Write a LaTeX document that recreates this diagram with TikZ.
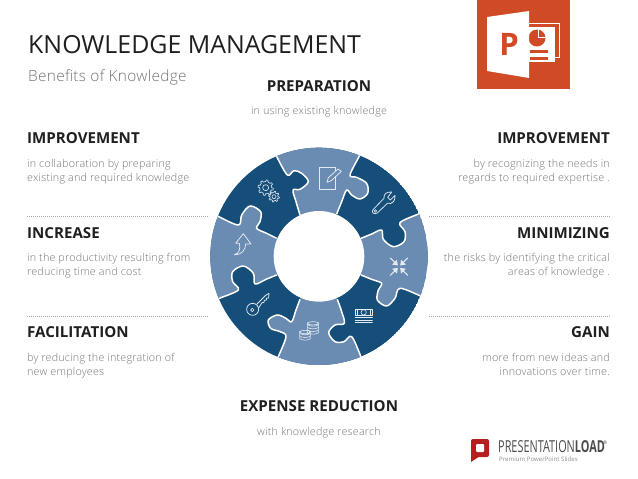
\documentclass[tikz,border=0pt]{standalone}
\usepackage{fontspec}
\usepackage{graphicx}
\setmainfont{Open Sans}
\newfontfamily\lightfont[LetterSpace=2]{Open Sans Light}
\definecolor{ringdark}{HTML}{164E7A}
\definecolor{ringlight}{HTML}{6B8CB2}
\definecolor{bodygray}{HTML}{737373}
\definecolor{headdark}{HTML}{1F1F1F}
\definecolor{ppt}{HTML}{D04A25}
\definecolor{plred}{HTML}{B5201E}
\definecolor{iconline}{HTML}{E4EAF1}
\definecolor{dotgray}{HTML}{A6A6A6}
\def\Bone{-- plot[smooth,tension=.55] coordinates {(300,225)(288,185)(279,150)(300,148)(325,125)(305,100)(282,92)(262,105)(230,50)(215,25)}}
\def\Btwo{-- plot[smooth,tension=.55] coordinates {(490,20)(478,48)(450,105)(470,112)(500,130)(503,160)(480,177)(455,165)(440,150)(425,185)(410,222)}}
\def\Bthree{-- plot[smooth,tension=.55] coordinates {(483,295)(515,282)(545,270)(550,298)(580,320)(612,305)(615,275)(600,248)(655,222)(680,210)}}
\def\Bfour{-- plot[smooth,tension=.55] coordinates {(685,478)(662,468)(600,445)(585,475)(560,498)(532,480)(535,450)(545,430)(515,418)(483,405)}}
\def\Bfive{-- plot[smooth,tension=.55] coordinates {(412,478)(425,515)(433,550)(405,555)(386,578)(405,605)(432,605)(455,590)(483,650)(495,675)}}
\def\Bsix{-- plot[smooth,tension=.55] coordinates {(225,675)(235,650)(258,590)(240,575)(212,565)(205,540)(232,525)(258,535)(275,545)(288,510)(300,478)}}
\def\Bseven{-- plot[smooth,tension=.55] coordinates {(230,405)(198,418)(165,432)(160,400)(130,378)(98,395)(98,425)(115,450)(58,475)(35,485)}}
\def\Beight{-- plot[smooth,tension=.55] coordinates {(30,218)(52,228)(115,255)(125,225)(150,198)(182,215)(180,245)(170,265)(200,280)(230,295)}}
\tikzset{
  piecefill/.style={fill=ringlight},
  seam/.style={draw=white,line width=1.5,line join=round},
  icon/.style={draw=iconline,line width=.75,line join=round,line cap=round,fill=none},
  leftsub/.style={anchor=base west,text=bodygray,font=\lightfont\fontsize{10.75}{12}\selectfont,inner sep=0},
  rightsub/.style={anchor=base east,text=bodygray,font=\lightfont\fontsize{10.75}{12}\selectfont,inner sep=0},
  censub/.style={anchor=base,text=bodygray,font=\lightfont\fontsize{10.75}{12}\selectfont,inner sep=0},
  lefthead/.style={anchor=base west,text=headdark,font=\fontsize{15.1}{17}\selectfont\bfseries,inner sep=0},
  righthead/.style={anchor=base east,text=headdark,font=\fontsize{15.1}{17}\selectfont\bfseries,inner sep=0},
  cenhead/.style={anchor=base,text=headdark,font=\fontsize{15.1}{17}\selectfont\bfseries,inner sep=0},
  sepline/.style={draw=dotgray,line width=.8,dash pattern=on 1pt off 1pt},
}
\begin{document}
\begin{tikzpicture}[x=1pt,y=-1pt]
\useasboundingbox (0,0) rectangle (638,479);
% ---------- ring, in 3x coordinates of the crop
\begin{scope}[xshift=200pt,yshift=-140pt,x=.33333pt,y=-.33333pt]
\begin{scope}
\clip (357,349) circle (326);
\fill[ringdark] (357,349) circle (326);
\fill[piecefill] (357,349) \Bone -- (357,-50) \Btwo -- cycle;
\fill[piecefill] (357,349) \Bthree -- (760,349) \Bfour -- cycle;
\fill[piecefill] (357,349) \Bfive -- (357,750) \Bsix -- cycle;
\fill[piecefill] (357,349) \Bseven -- (-50,349) \Beight -- cycle;
\draw[seam] (300,225) \Bone; \draw[seam] (490,20) \Btwo; \draw[seam] (483,295) \Bthree; \draw[seam] (685,478) \Bfour;
\draw[seam] (412,478) \Bfive; \draw[seam] (225,675) \Bsix; \draw[seam] (230,405) \Bseven; \draw[seam] (30,218) \Beight;
\end{scope}
\fill[white] (357,349) circle (136);
% note and pencil
\draw[icon] (407,110) -- (407,147) -- (357,147) -- (357,82) -- (407,82) -- (407,92);
\draw[icon] (381,127) -- (385,113) -- (414,87) -- (424,94) -- (394,122) -- cycle;
% gears
\draw[icon,line width=.6,shift={(197,143)}] plot[domain=0:360,samples=97] (\x:{18+5*(sin(8*\x)>0)}) -- cycle;
\draw[icon,line width=.6] (197,143) circle (9);
\draw[icon,line width=.6,shift={(222,170)}] plot[domain=0:360,samples=97] (\x:{12+4*(sin(8*\x)>0)}) -- cycle;
\draw[icon,line width=.6] (222,170) circle (6);
% wrench
\draw[icon] (520,208) -- (552,175) .. controls (550,162) and (560,155) .. (575,156) -- (563,172) -- (571,180) -- (585,166) .. controls (587,182) and (577,194) .. (562,190) -- (532,219) .. controls (522,226) and (512,216) .. (520,208) -- cycle;
\draw[icon,line width=.6] (526,213) circle (4);
% inward arrows
\foreach \a in {45,135,225,315}{
  \begin{scope}[shift={(597,380)},rotate=\a]
  \draw[icon,line width=1] (37,0) -- (8,0);
  \fill[iconline] (5,0) -- (19,-10) -- (19,10) -- cycle;
  \end{scope}}
% banknote
\draw[icon] (466,507) rectangle (517,527);
\draw[icon,line width=.6] (491,517) circle (8);
\draw[icon,line width=.6] (473,510) -- (473,524) (510,510) -- (510,524);
\draw[icon] (466,533) -- (517,533) (466,540) -- (517,540) (466,547) -- (517,547);
% coins
\foreach \y in {548,556,564,572}{\draw[icon,line width=.6] (322,\y) -- (322,\y+6) .. controls (330,\y+12) and (348,\y+12) .. (356,\y+6) -- (356,\y);}
\draw[icon,line width=.6] (339,550) ellipse (17 and 5);
\foreach \y in {574,582,590}{\draw[icon,line width=.6] (299,\y) -- (299,\y+6) .. controls (307,\y+12) and (323,\y+12) .. (331,\y+6) -- (331,\y);}
\draw[icon,line width=.6] (315,576) ellipse (16 and 5);
% key
\draw[icon] (171,492) -- (197,466) -- (207,460) -- (206,474) -- (200,474) -- (199,480) -- (193,481) -- (192,487) -- (186,488) -- (176,504);
\draw[icon] (158,508) circle (18);
\draw[icon,line width=.6] (157,510) circle (5);
% up arrow
\draw[icon] (103,344) .. controls (118,342) and (122,325) .. (118,310) -- (107,310) -- (130,281) -- (153,312) -- (137,312) .. controls (137,330) and (125,345) .. (103,344) -- cycle;
\end{scope}
% ---------- titles
\node[anchor=base west,inner sep=0,text=headdark,font=\fontsize{24.9}{27}\selectfont] (title) at (28,53) {KNOWLEDGE MANAGEMENT};
\node[anchor=base west,inner sep=0,text=bodygray,font=\lightfont\fontsize{15.4}{17}\selectfont] (subtitle) at (28,81) {Benefits of Knowledge};
% ---------- top and bottom
\node[cenhead] (prep) at (319,91) {PREPARATION};
\node[censub] (prepsub) at (319,114) {in using existing knowledge};
\node[cenhead] (exp) at (319,411) {EXPENSE REDUCTION};
\node[censub] (expsub) at (319,435) {with knowledge research};
% ---------- left column
\node[lefthead] (l1) at (27,143) {IMPROVEMENT};
\node[leftsub] (l1a) at (27,167) {in collaboration by preparing};
\node[leftsub] (l1b) at (27,181) {existing and required knowledge};
\node[lefthead] (l2) at (27,238) {INCREASE};
\node[leftsub] (l2a) at (27,261) {in the productivity resulting from};
\node[leftsub] (l2b) at (27,275) {reducing time and cost};
\node[lefthead] (l3) at (27,337) {FACILITATION};
\node[leftsub] (l3a) at (27,361) {by reducing the integration of};
\node[leftsub] (l3b) at (27,375) {new employees};
% ---------- right column
\node[righthead] (r1) at (610,143) {IMPROVEMENT};
\node[rightsub] (r1a) at (610,167) {by recognizing the needs in};
\node[rightsub] (r1b) at (610,181) {regards to required expertise .};
\node[righthead] (r2) at (610,238) {MINIMIZING};
\node[rightsub] (r2a) at (610,261) {the risks by identifying the critical};
\node[rightsub] (r2b) at (610,275) {areas of knowledge .};
\node[righthead] (r3) at (610,337) {GAIN};
\node[rightsub] (r3a) at (610,361) {more from new ideas and};
\node[rightsub] (r3b) at (610,375) {innovations over time.};
% ---------- separators
\draw[sepline] (27,216) -- (208,216);
\draw[sepline] (27,316) -- (208,316);
\draw[sepline] (429,216) -- (611,216);
\draw[sepline] (429,316) -- (611,316);
% ---------- PowerPoint logo
\fill[ppt] (477,0) rectangle (570,89);
\draw[white,line width=1] (529,23.5) -- (559,23.5) -- (559,57) -- (555,57);
\fill[white] (528,27) rectangle (555,62);
\fill[ppt] (537,38) circle (8.5);
\draw[white,line width=1] (538,29) -- (538,37) -- (546,37);
\fill[ppt] (530,50) rectangle (548,52.5);
\fill[ppt] (530,57) rectangle (548,59.5);
\fill[white] (487,17) -- (529,11) -- (529,78) -- (487,71) -- cycle;
\node[anchor=base,inner sep=0,text=ppt,font=\fontsize{31}{33}\selectfont\bfseries] (pptp) at (509,55) {P};
% ---------- PresentationLoad logo
\fill[plred,rounded corners=2pt] (471,439) rectangle (489,457);
\fill[plred] (471,450) -- (471,462) -- (480,456) -- cycle;
\fill[white,rounded corners=1pt] (476,444) rectangle (484,452);
\node[anchor=base west,inner sep=0,text=black!70,font=\fontsize{16.5}{18}\selectfont] (plname) at (498,452) {\scalebox{.66}[1]{PRESENTATION\textbf{LOAD}}};
\node[anchor=base west,inner sep=0,text=black!70,font=\fontsize{5}{6}\selectfont] (plreg) at (603,444) {®};
\node[anchor=base west,inner sep=0,text=black!45,font=\fontsize{6.1}{8}\selectfont] (plsub) at (499,461.5) {Premium PowerPoint Slides};
\end{tikzpicture}
\end{document}
